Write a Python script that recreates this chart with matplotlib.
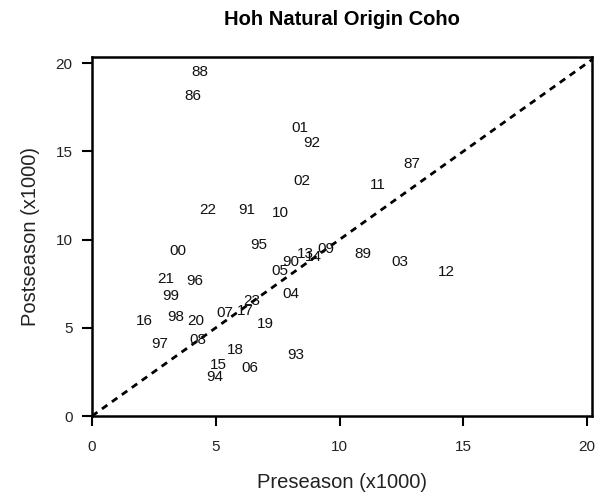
import matplotlib
matplotlib.use("Agg")
import matplotlib.pyplot as plt
import numpy as np

plt.rcParams['font.family'] = ['Liberation Sans', 'DejaVu Sans']

# year labels with preseason / postseason abundance (x1000)
years = ['88', '86', '01', '92', '02', '87', '11', '22', '91', '10',
         '00', '95', '13', '14', '09', '90', '05', '89', '03', '12',
         '21', '96', '99', '04', '23', '16', '98', '20', '07', '17',
         '19', '97', '08', '18', '93', '15', '06', '94']
preseason = [4.36, 4.08, 8.40, 8.89, 8.48, 12.93, 11.56, 4.69, 6.26, 7.60,
             3.47, 6.75, 8.61, 8.93, 9.45, 8.04, 7.60, 10.95, 12.44, 14.30,
             2.99, 4.16, 3.19, 8.04, 6.46, 2.10, 3.39, 4.20, 5.37, 6.18,
             6.99, 2.75, 4.28, 5.78, 8.24, 5.09, 6.38, 4.97]
postseason = [19.49, 18.13, 16.31, 15.45, 13.30, 14.26, 13.07, 11.70, 11.65, 11.48,
              9.38, 9.72, 9.20, 9.03, 9.49, 8.75, 8.24, 9.20, 8.75, 8.18,
              7.78, 7.67, 6.82, 6.93, 6.53, 5.40, 5.63, 5.40, 5.85, 5.97,
              5.23, 4.09, 4.32, 3.75, 3.47, 2.90, 2.73, 2.22]

fig = plt.figure(figsize=(6, 4.99), dpi=100)
ax = fig.add_axes([0.1533, 0.1663, 0.8334, 0.7195])

ax.plot([0, 21], [0, 21], color='black', linestyle=(0, (2.4, 2.0)), linewidth=2)

for lab, x, y in zip(years, preseason, postseason):
    ax.text(x, y, lab, ha='center', va='center', fontsize=11, color='#111111')

ax.set_xlim(0, 20.2)
ax.set_ylim(0, 20.35)
ax.set_xticks([0, 5, 10, 15, 20])
ax.set_yticks([0, 5, 10, 15, 20])
ax.tick_params(direction='out', length=7, width=1.5, labelsize=11,
               labelcolor='#222222')
ax.tick_params(axis='x', pad=10)
ax.tick_params(axis='y', pad=7)

for side in ax.spines.values():
    side.set_linewidth(1.8)

ax.set_xlabel('Preseason (x1000)', fontsize=14.5, labelpad=14, color='#222222')
ax.set_ylabel('Postseason (x1000)', fontsize=14.5, labelpad=11, color='#222222')
ax.set_title('Hoh Natural Origin Coho', fontsize=14.5, fontweight='bold', pad=23)

fig.savefig('out.png', dpi=100)
